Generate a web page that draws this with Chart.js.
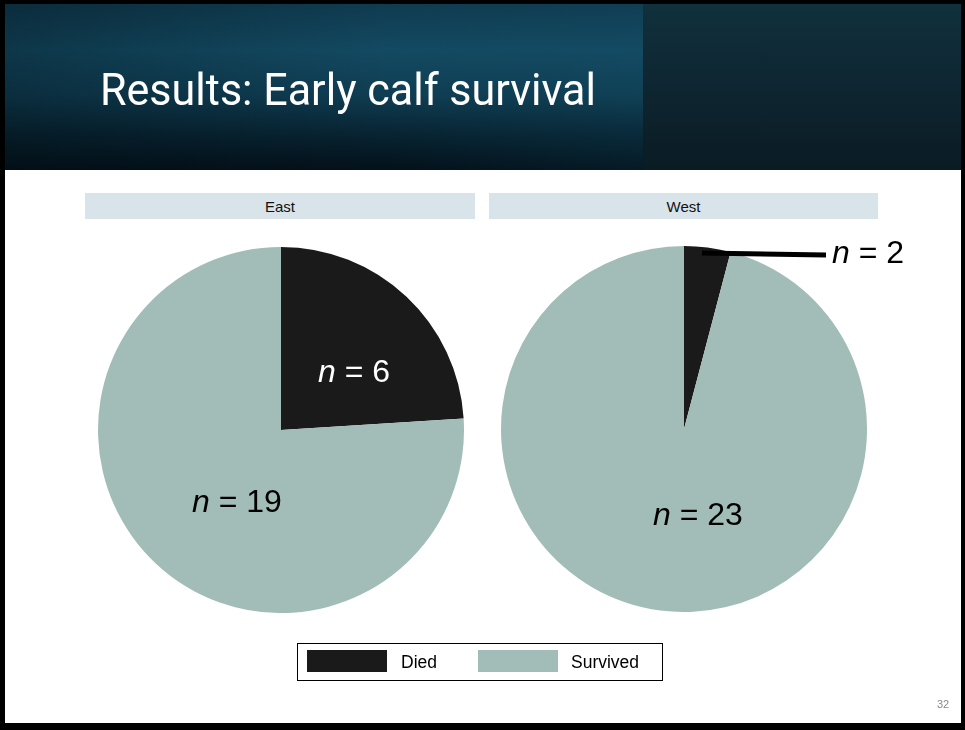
<!DOCTYPE html>
<html>
<head>
<meta charset="utf-8">
<script src="https://cdn.jsdelivr.net/npm/chart.js@4"></script>
<style>
  html, body { margin:0; padding:0; background:#000; }
  #page { position:relative; width:965px; height:730px; background:#000; overflow:hidden; }
  #white { position:absolute; left:5px; top:4px; width:956px; height:719px; background:#fff; }
  #hdrL { position:absolute; left:5px; top:4px; width:638px; height:166px;
    background: linear-gradient(to bottom, #0f3b50 0%, #134a62 28%, #0f3d52 55%, #072230 80%, #03111a 100%); }
  #hdrL2 { position:absolute; left:5px; top:4px; width:638px; height:166px;
    background: linear-gradient(to right, rgba(0,10,15,0.3) 0%, rgba(0,10,15,0.0) 60%, rgba(20,80,105,0.15) 100%); }
  #hdrR { position:absolute; left:643px; top:4px; width:318px; height:166px;
    background: linear-gradient(to bottom, #10303d 0%, #0e2631 50%, #0a1b23 100%); }
  .strip { position:absolute; top:193px; height:26px; background:#d9e4ea;
    font-family:"Liberation Sans", Arial, sans-serif; font-size:15px; color:#111;
    display:flex; align-items:center; justify-content:center; }
  canvas.pie { position:absolute; }
  #overlay { position:absolute; left:0; top:0; pointer-events:none; }
</style>
</head>
<body>
<div id="page">
  <div id="white"></div>
  <div id="hdrL"></div>
  <div id="hdrL2"></div>
  <div id="hdrR"></div>
  <div class="strip" id="stripEast" style="left:85px;width:390px;"></div>
  <div class="strip" id="stripWest" style="left:489px;width:389px;"></div>
  <canvas class="pie" id="pieEast" width="366" height="366" style="left:98px;top:247px;"></canvas>
  <canvas class="pie" id="pieWest" width="366" height="366" style="left:501px;top:246px;"></canvas>
  <svg id="overlay" width="965" height="730" xmlns="http://www.w3.org/2000/svg"></svg>
</div>
<script>
// ---- data ----
const titleText = "Results: Early calf survival";
const panels = ["East", "West"];
const categories = ["Died", "Survived"];
const eastCounts = [6, 19];
const westCounts = [2, 23];
// slice shares (%)
const eastShare = [24, 76];
const westShare = [4.1, 95.9];
const sliceColors = ["#1a1a1a", "#a2bdb7"];
const pageNumber = "32";

document.getElementById("stripEast").textContent = panels[0];
document.getElementById("stripWest").textContent = panels[1];

function makePie(id, shares) {
  return new Chart(document.getElementById(id), {
    type: "pie",
    data: {
      labels: categories,
      datasets: [{ data: shares, backgroundColor: sliceColors, borderWidth: 0, hoverOffset: 0 }]
    },
    options: {
      responsive: false,
      animation: false,
      events: [],
      layout: { padding: 0 },
      plugins: { legend: { display: false }, tooltip: { enabled: false } }
    }
  });
}
makePie("pieEast", eastShare);
makePie("pieWest", westShare);

// ---- overlay text ----
const NS = "http://www.w3.org/2000/svg";
const svg = document.getElementById("overlay");
function el(tag, attrs, parent) {
  const e = document.createElementNS(NS, tag);
  for (const k in attrs) e.setAttribute(k, attrs[k]);
  (parent || svg).appendChild(e);
  return e;
}
function nLabel(x, y, count, color) {
  const t = el("text", { x: x, y: y, "font-family": "Liberation Sans, Arial, sans-serif", "font-size": 32, fill: color });
  const a = el("tspan", { "font-style": "italic" }, t); a.textContent = "n";
  const b = el("tspan", {}, t); b.textContent = " = " + count;
}
// title
const tt = el("text", { x: 100, y: 105, "font-family": "Roboto, sans-serif", "font-size": 45, fill: "#ffffff",
  textLength: 496, lengthAdjust: "spacingAndGlyphs" });
tt.textContent = titleText;

nLabel(318, 382, eastCounts[0], "#ffffff");
nLabel(192, 512, eastCounts[1], "#000000");
nLabel(653, 525, westCounts[1], "#000000");
nLabel(832, 263, westCounts[0], "#000000");
// leader line
el("line", { x1: 702, y1: 253, x2: 826, y2: 255, stroke: "#000", "stroke-width": 5 });

// legend
el("rect", { x: 297.5, y: 643.5, width: 365, height: 37, fill: "#fff", stroke: "#000", "stroke-width": 1 });
el("rect", { x: 307, y: 650, width: 80, height: 22, fill: sliceColors[0] });
el("rect", { x: 478, y: 650, width: 80, height: 22, fill: sliceColors[1] });
const l1 = el("text", { x: 401, y: 668, "font-family": "Liberation Sans, Arial, sans-serif", "font-size": 17.5, fill: "#000" });
l1.textContent = categories[0];
const l2 = el("text", { x: 571, y: 668, "font-family": "Liberation Sans, Arial, sans-serif", "font-size": 17.5, fill: "#000" });
l2.textContent = categories[1];

const pn = el("text", { x: 937, y: 708, "font-family": "Liberation Sans, Arial, sans-serif", "font-size": 11, fill: "#8a8a8a" });
pn.textContent = pageNumber;
</script>
</body>
</html>
